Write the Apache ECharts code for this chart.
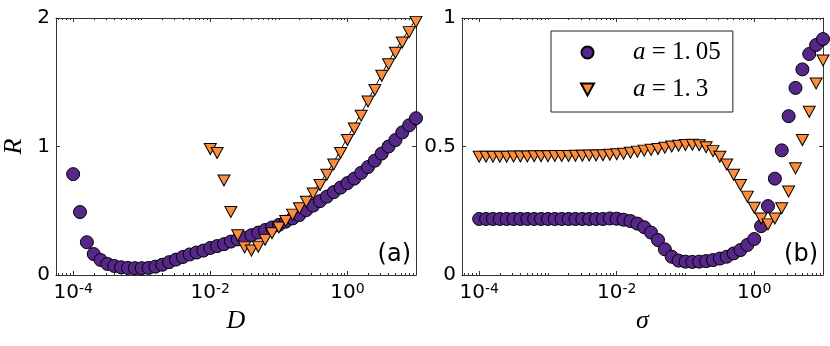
<!DOCTYPE html>
<html>
<head>
<meta charset="utf-8">
<script src="https://cdn.jsdelivr.net/npm/echarts@6/dist/echarts.min.js"></script>
<style>
    html, body { margin: 0; padding: 0; background: #fff; }
    #chart { width: 830px; height: 346px; }
</style>
</head>
<body>
<div id="chart"></div>
<script>
// x values are stored as log10(D) / log10(sigma), 10 points per decade
const logGrid = [
    -4.0, -3.9, -3.8, -3.7, -3.6, -3.5, -3.4, -3.3, -3.2, -3.1,
    -3.0, -2.9, -2.8, -2.7, -2.6, -2.5, -2.4, -2.3, -2.2, -2.1,
    -2.0, -1.9, -1.8, -1.7, -1.6, -1.5, -1.4, -1.3, -1.2, -1.1,
    -1.0, -0.9, -0.8, -0.7, -0.6, -0.5, -0.4, -0.3, -0.2, -0.1,
    0.0, 0.1, 0.2, 0.3, 0.4, 0.5, 0.6, 0.7, 0.8, 0.9, 1.0
];

// panel (a): R vs D
const rD_a105 = [
    0.785, 0.49, 0.255, 0.163, 0.117, 0.086, 0.07, 0.06, 0.055, 0.053,
    0.053, 0.055, 0.065, 0.08, 0.10, 0.12, 0.14, 0.16, 0.175, 0.19,
    0.21, 0.225, 0.24, 0.26, 0.277, 0.29, 0.31, 0.33, 0.35, 0.37,
    0.39, 0.415, 0.44, 0.467, 0.505, 0.54, 0.575, 0.61, 0.645, 0.68,
    0.715, 0.75, 0.795, 0.84, 0.89, 0.945, 1.0, 1.05, 1.11, 1.165, 1.22
];
// a = 1.3 only measured from D = 10^-2
const logGridA13 = logGrid.slice(20);
const rD_a13 = [
    0.98, 0.95, 0.735, 0.49, 0.31, 0.215, 0.19, 0.22, 0.275, 0.325,
    0.37, 0.42, 0.47, 0.52, 0.57, 0.635, 0.70, 0.78, 0.86, 0.95,
    1.05, 1.14, 1.24, 1.35, 1.44, 1.55, 1.64, 1.73, 1.81, 1.89, 1.97
];
// thin black curve under the a = 1.3 markers
const fitX = [-1.2, -1.0, -0.8, -0.6, -0.4, -0.2, 0.0, 0.2, 0.4, 0.6, 0.8, 1.0];
const fitR = [0.29, 0.39, 0.49, 0.59, 0.72, 0.88, 1.07, 1.26, 1.46, 1.66, 1.83, 1.99];

// panel (b): R vs sigma
const rS_a105 = [
    0.218, 0.218, 0.218, 0.218, 0.218, 0.218, 0.218, 0.218, 0.218, 0.218,
    0.218, 0.218, 0.218, 0.218, 0.218, 0.218, 0.218, 0.218, 0.218, 0.22,
    0.219, 0.215, 0.21, 0.2, 0.186, 0.165, 0.136, 0.10, 0.071, 0.056,
    0.052, 0.051, 0.052, 0.054, 0.058, 0.064, 0.071, 0.084, 0.097, 0.117,
    0.14, 0.19, 0.268, 0.375, 0.485, 0.618, 0.728, 0.80, 0.86, 0.895, 0.918
];
const rS_a13 = [
    0.46, 0.46, 0.46, 0.46, 0.46, 0.461, 0.461, 0.461, 0.462, 0.462,
    0.462, 0.463, 0.463, 0.463, 0.464, 0.464, 0.465, 0.465, 0.466, 0.468,
    0.47, 0.472, 0.476, 0.48, 0.484, 0.487, 0.49, 0.495, 0.5, 0.503,
    0.506, 0.507, 0.505, 0.497, 0.482, 0.46, 0.43, 0.39, 0.35, 0.305,
    0.262, 0.22, 0.197, 0.22, 0.26, 0.325, 0.415, 0.525, 0.635, 0.745, 0.835
];

const xMajor = [-4, -2, 0];
const legendNames = ['a = 1.05', 'a = 1.3'];
const legendValues = ['1.05', '1.3'];

const PURPLE = '#542788';
const ORANGE = '#fd8d3c';
const FRAME = '#333';
const X_MIN = -4.25;
const X_MAX = 1;

// minor ticks of a log axis: log10(k * 10^n)
const xMinor = [];
for (let n = -5; n <= 1; n++) {
    for (let k = 1; k <= 9; k++) {
        const v = n + Math.log10(k);
        if (v >= X_MIN && v <= X_MAX && xMajor.indexOf(v) < 0) xMinor.push(v);
    }
}

const pairs = (xs, ys) => ys.map((y, i) => [xs[i], y]);

const TICK_STYLE = { color: FRAME, width: 1 };
const AXIS_LINE = { show: true, onZero: false, lineStyle: TICK_STYLE };
const NO_LINE = { show: false, onZero: false };
const NAME_STYLE = {
    fontFamily: 'Liberation Serif',
    fontStyle: 'italic',
    fontSize: 26,
    color: '#000'
};

function xAxes(grid, name) {
    const base = {
        type: 'value',
        gridIndex: grid,
        min: X_MIN,
        max: X_MAX,
        splitLine: { show: false }
    };
    const major = { show: true, inside: true, length: 4, customValues: xMajor, lineStyle: TICK_STYLE };
    const minor = { show: true, inside: true, length: 2, customValues: xMinor, lineStyle: TICK_STYLE };
    return [
        {
            ...base,
            position: 'bottom',
            name: name,
            nameLocation: 'middle',
            nameGap: 31,
            nameTextStyle: NAME_STYLE,
            axisLine: AXIS_LINE,
            axisTick: major,
            axisLabel: {
                customValues: xMajor,
                margin: 7,
                color: '#000',
                formatter: v => '{b|10}{s|' + (v < 0 ? '-' : '') + Math.abs(v) + '}',
                rich: {
                    b: { fontFamily: 'DejaVu Sans', fontSize: 20, color: '#000' },
                    s: { fontFamily: 'DejaVu Sans', fontSize: 14, color: '#000', verticalAlign: 'top', padding: [0, 0, 8, 0] }
                }
            }
        },
        { ...base, position: 'bottom', axisLine: NO_LINE, axisTick: minor, axisLabel: { show: false } },
        { ...base, position: 'top', axisLine: AXIS_LINE, axisTick: major, axisLabel: { show: false } },
        { ...base, position: 'top', axisLine: NO_LINE, axisTick: minor, axisLabel: { show: false } }
    ];
}

function yAxes(grid, max, interval, name) {
    const base = {
        type: 'value',
        gridIndex: grid,
        min: 0,
        max: max,
        interval: interval,
        splitLine: { show: false },
        axisLine: AXIS_LINE,
        axisTick: { show: true, inside: true, length: 4, lineStyle: TICK_STYLE }
    };
    return [
        {
            ...base,
            position: 'left',
            name: name,
            nameLocation: 'middle',
            nameRotate: 90,
            nameGap: 29,
            nameTextStyle: NAME_STYLE,
            axisLabel: { fontFamily: 'DejaVu Sans', fontSize: 20, color: '#000', margin: 6 }
        },
        { ...base, position: 'right', axisLabel: { show: false } }
    ];
}

const circleStyle = { color: PURPLE, borderColor: '#000', borderWidth: 1, opacity: 1 };
const triangleStyle = { color: ORANGE, borderColor: '#000', borderWidth: 1, opacity: 1 };

function markerSeries(xIdx, yIdx, name, data, isTriangle) {
    return {
        type: 'scatter',
        name: name,
        xAxisIndex: xIdx,
        yAxisIndex: yIdx,
        data: data,
        symbol: isTriangle ? 'triangle' : 'circle',
        symbolRotate: isTriangle ? 180 : 0,
        symbolSize: isTriangle ? [12, 11] : 13,
        itemStyle: isTriangle ? triangleStyle : circleStyle,
        z: isTriangle ? 4 : 3,
        silent: true
    };
}

const chart = echarts.init(document.getElementById('chart'), null, { renderer: 'canvas' });

chart.setOption({
    animation: false,
    backgroundColor: '#fff',
    grid: [
        { left: 53, right: 414, top: 18, bottom: 71 },
        { left: 462, right: 7, top: 18, bottom: 71 }
    ],
    xAxis: [...xAxes(0, 'D'), ...xAxes(1, 'σ')],
    yAxis: [...yAxes(0, 2, 1, 'R'), ...yAxes(1, 1, 0.5, '')],
    legend: {
        data: [
            { name: legendNames[0], icon: 'circle' },
            { name: legendNames[1], icon: 'path://M0,0L12,0L6,11Z' }
        ],
        orient: 'vertical',
        left: 551,
        top: 31,
        padding: [9, 12, 10, 29],
        itemGap: 12,
        itemWidth: 13,
        itemHeight: 12,
        backgroundColor: '#fff',
        borderColor: '#222',
        borderWidth: 1,
        borderRadius: 0,
        selectedMode: false,
        formatter: name => '{sp|}{i|a}{t|\u2005=\u20051.\u2009' + legendValues[legendNames.indexOf(name)].slice(2) + '}',
        textStyle: {
            rich: {
                sp: { width: 34 },
                i: { fontFamily: 'Liberation Serif', fontStyle: 'italic', fontSize: 25, color: '#000' },
                t: { fontFamily: 'Liberation Serif', fontSize: 25, color: '#000' }
            }
        }
    },
    graphic: [
        { type: 'text', x: 411, y: 255, style: { text: '(a)', font: '24px "DejaVu Sans"', fill: '#000', align: 'right', verticalAlign: 'middle' } },
        { type: 'text', x: 818, y: 255, style: { text: '(b)', font: '24px "DejaVu Sans"', fill: '#000', align: 'right', verticalAlign: 'middle' } }
    ],
    series: [
        {
            type: 'line',
            xAxisIndex: 0,
            yAxisIndex: 0,
            data: pairs(fitX, fitR),
            showSymbol: false,
            smooth: true,
            lineStyle: { color: '#000', width: 1 },
            z: 2,
            silent: true
        },
        markerSeries(0, 0, legendNames[0], pairs(logGrid, rD_a105), false),
        markerSeries(0, 0, legendNames[1], pairs(logGridA13, rD_a13), true),
        markerSeries(4, 2, legendNames[0], pairs(logGrid, rS_a105), false),
        markerSeries(4, 2, legendNames[1], pairs(logGrid, rS_a13), true)
    ]
});
</script>
</body>
</html>
